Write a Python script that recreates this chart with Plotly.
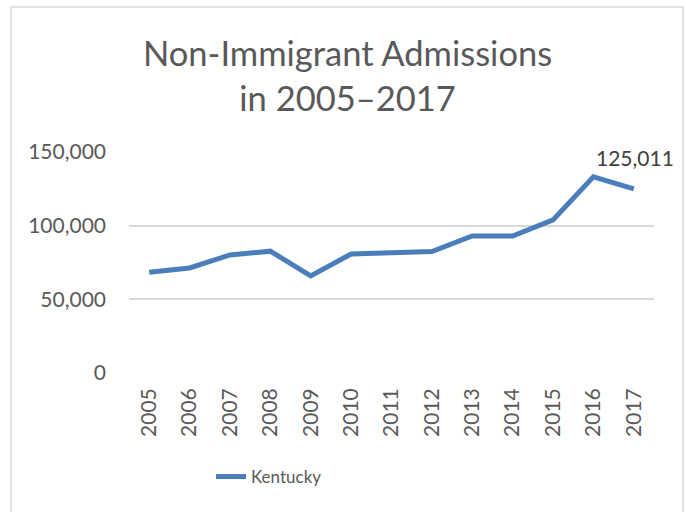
import plotly.graph_objects as go

years = ["2005", "2006", "2007", "2008", "2009", "2010", "2011",
         "2012", "2013", "2014", "2015", "2016", "2017"]
kentucky = [68400, 71300, 80100, 82700, 65900, 80800, 81600,
            82400, 93000, 93000, 103900, 133200, 125011]
series_name = "Kentucky"
title_lines = ["Non-Immigrant Admissions", "in 2005\u20132017"]
y_ticks = [0, 50000, 100000, 150000]
y_tick_labels = ["0", "50,000", "100,000", "150,000"]

W, H = 686, 512
L, R, T, B = 129, 32, 152, 139
pw, ph = W - L - R, H - T - B

def px_x(p):
    return (p - L) / pw

def px_y(p):
    return (H - B - p) / ph

FONT = "Lato"
GRAY = "#595959"
BLUE = "#4a7ebb"

fig = go.Figure()
fig.add_trace(go.Scatter(
    x=years, y=kentucky, mode="lines", name=series_name,
    line=dict(color=BLUE, width=5), cliponaxis=False,
))

fig.add_annotation(
    x=len(years) - 1, y=kentucky[-1], text=f"{kentucky[-1]:,}",
    xref="x", yref="y", showarrow=False, yshift=31, xshift=1,
    font=dict(family=FONT, size=21, color="#404040"),
)

fig.add_annotation(
    x=px_x(347), y=px_y(30), xref="paper", yref="paper",
    xanchor="center", yanchor="top", showarrow=False,
    text="<br>".join(title_lines),
    font=dict(family=FONT, size=34.5, color=GRAY),
)

fig.add_shape(type="rect", xref="paper", yref="paper",
              x0=px_x(11), x1=px_x(683), y0=px_y(7), y1=px_y(530),
              line=dict(color="#d9d9d9", width=1.5), layer="below")

fig.update_layout(
    width=W, height=H,
    margin=dict(l=L, r=R, t=T, b=B, autoexpand=False),
    paper_bgcolor="white", plot_bgcolor="white",
    xaxis=dict(type="category", tickangle=-90, showgrid=False,
               showline=False, ticks="", range=[-0.5, 12.5],
               ticklabelstandoff=10,
               tickfont=dict(family=FONT, size=21, color=GRAY)),
    yaxis=dict(range=[0, 150000], tickvals=y_ticks, ticktext=y_tick_labels,
               showgrid=True, gridcolor="#d9d9d9", gridwidth=1.5,
               zeroline=False, showline=False, ticks="", ticklabelstandoff=22,
               tickfont=dict(family=FONT, size=21, color=GRAY)),
    showlegend=True,
    legend=dict(orientation="h", x=px_x(211), y=px_y(477), xanchor="left",
                yanchor="middle", font=dict(family=FONT, size=17, color=GRAY),
                bgcolor="rgba(0,0,0,0)"),
)

fig.write_html("out.html", config={"displayModeBar": False},
               post_script="document.body.style.margin='0';")
